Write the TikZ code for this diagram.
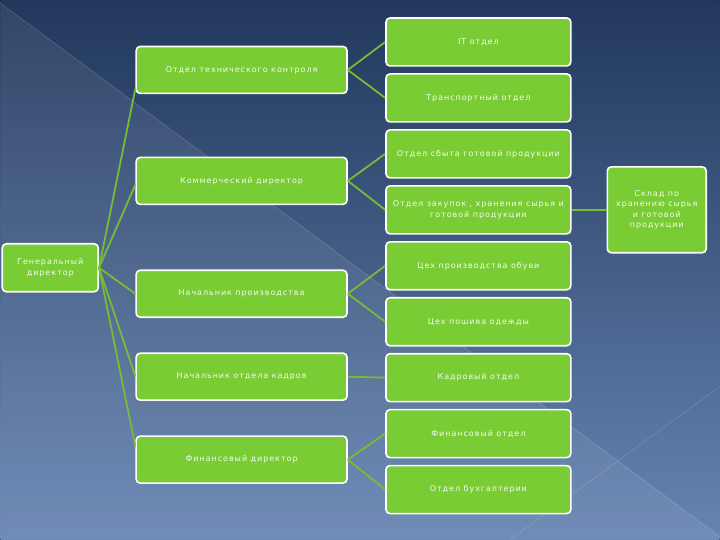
\documentclass[tikz,border=0pt]{standalone}
\usepackage{fontspec}
\setmainfont[LetterSpace=12]{DejaVu Sans}
\usetikzlibrary{positioning}

\definecolor{orgGreen}{RGB}{122,204,52}
\definecolor{linkGreen}{RGB}{118,188,56}
\definecolor{bgTop}{RGB}{34,56,92}
\definecolor{bgBottom}{RGB}{102,132,178}

\begin{document}
\begin{tikzpicture}[
        x=1pt, y=-1pt,
        node distance=6.4pt,
        box/.style={rectangle, rounded corners=4pt, draw=white, line width=1.6pt, fill=orgGreen, text=white!92!orgGreen, font=\fontsize{8}{10.5}\selectfont, align=center, inner sep=2pt},
        lvlone/.style={box, minimum width=211pt, minimum height=47pt},
        lvltwo/.style={box, minimum width=185pt, minimum height=48pt},
        link/.style={draw=linkGreen, line width=1.8pt}
    ]
    % background
    \fill[top color=bgTop, bottom color=bgBottom] (0,0) rectangle (720,540);
    \fill[white, opacity=0.07] (0,3) -- (720,537) -- (720,540) -- (0,540) -- cycle;
    \draw[white, opacity=0.18, line width=0.6pt] (0,3) -- (720,537);
    \draw[white, opacity=0.15, line width=0.6pt] (510,540) -- (720,387);

    \node[box, minimum width=96pt, minimum height=48pt] (gen) at (50,268) {Генеральный\\директор};

    \node[lvlone] (otk) at (241.5,70) {Отдел технического контроля};
    \node[lvlone] (kom) at (241.5,181) {Коммерческий директор};
    \node[lvlone] (proizv) at (241.5,294) {Начальник производства};
    \node[lvlone] (kadry) at (241.5,377) {Начальник отдела кадров};
    \node[lvlone] (findir) at (241.5,460) {Финансовый директор};

    \node[lvltwo] (it) at (478.5,42) {IT отдел};
    \node[lvltwo, below=of it] (trans) {Транспортный отдел};
    \node[lvltwo, below=of trans] (sbyt) {Отдел сбыта готовой продукции};
    \node[lvltwo, below=of sbyt] (zak) {Отдел закупок , хранения сырья и\\готовой продукции};
    \node[lvltwo, below=of zak] (obuv) {Цех производства обуви};
    \node[lvltwo, below=of obuv] (shiv) {Цех пошива одежды};
    \node[lvltwo, below=of shiv] (kadrotd) {Кадровый отдел};
    \node[lvltwo, below=of kadrotd] (finotd) {Финансовый отдел};
    \node[lvltwo, below=of finotd] (buh) {Отдел бухгалтерии};

    \node[box, minimum width=99pt, minimum height=86pt] (sklad) at (657,210) {Склад по\\хранению сырья\\и готовой\\продукции};

    % connectors
    \foreach \b/\ang in {otk/190, kom/182, proizv/180, kadry/180, findir/173}
        \draw[link] (gen.east) -- (\b.\ang);
    \foreach \a/\b in {otk/it, otk/trans, kom/sbyt, kom/zak, proizv/obuv, proizv/shiv,
            kadry/kadrotd, findir/finotd, findir/buh, zak/sklad}
        \draw[link] (\a.east) -- (\b.west);
\end{tikzpicture}
\end{document}
